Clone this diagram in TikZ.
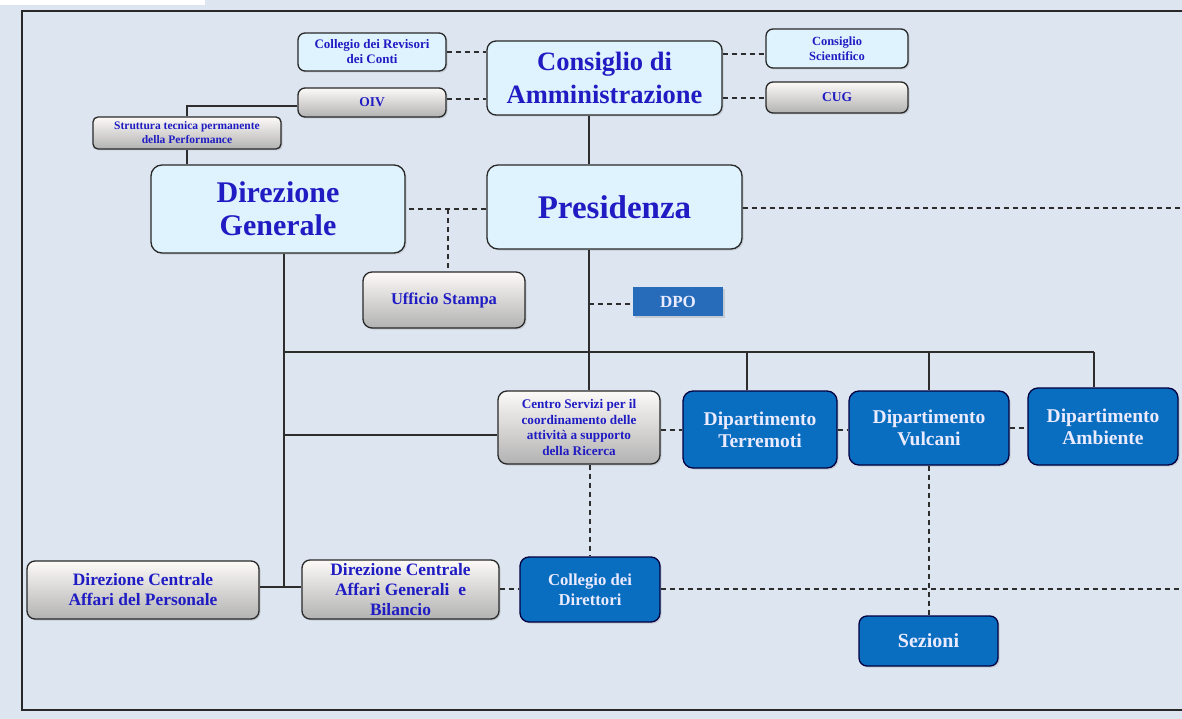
\documentclass[tikz,border=0pt]{standalone}
\usepackage{fontspec}
\setmainfont{Liberation Serif}
\usetikzlibrary{shadows}
\definecolor{bg}{RGB}{220,229,240}
\definecolor{txtblue}{RGB}{32,28,195}
\definecolor{cyanfill}{RGB}{222,243,253}
\definecolor{boxblue}{RGB}{10,110,192}
\definecolor{dpoblue}{RGB}{38,108,186}
\definecolor{edgeclr}{RGB}{40,40,40}
\definecolor{lineclr}{RGB}{45,45,45}
\begin{document}
\begin{tikzpicture}[x=1pt,y=-1pt,
  base/.style={draw=edgeclr, line width=1.3pt, rounded corners=7pt, align=center,
    inner sep=0pt, drop shadow={opacity=0.25, shadow xshift=1.5pt, shadow yshift=-1.5pt}},
  cyanbox/.style={base, fill=cyanfill, text=txtblue},
  graybox/.style={base, top color=white!96!brown, bottom color=black!30, text=txtblue},
  bluebox/.style={base, fill=boxblue, draw=black!75!blue, text=white!92!blue},
  conn/.style={draw=lineclr, line width=1.5pt},
  dconn/.style={draw=lineclr, line width=1.8pt, dash pattern=on 5pt off 4pt},
  fs/.style n args={2}{font=\bfseries\fontsize{#1}{#2}\selectfont}
]
\useasboundingbox (0,0) rectangle (1182,719);
\clip (0,0) rectangle (1182,719);
\fill[bg] (0,0) rectangle (1182,719);
\fill[white] (0,0) rectangle (205,5);
\draw[line width=1.5pt, edgeclr] (1200,11) -- (22,11) -- (22,710) -- (1200,710);

% nodes
\node[cyanbox, fs={13}{15}, minimum width=148pt, minimum height=38pt] (rev) at (372,52) {Collegio dei Revisori\\dei Conti};
\node[cyanbox, fs={26.5}{33}, rounded corners=9pt, minimum width=235pt, minimum height=74pt] (cda) at (604.5,78) {Consiglio di\\Amministrazione};
\node[cyanbox, fs={12.5}{15}, minimum width=142pt, minimum height=39pt] (sci) at (837,48.5) {Consiglio\\Scientifico};
\node[graybox, fs={13.5}{15}, minimum width=142pt, minimum height=31pt] (cug) at (837,97.5) {CUG};
\node[graybox, fs={13.5}{15}, minimum width=148pt, minimum height=29pt] (oiv) at (372,102.5) {OIV};
\node[graybox, fs={11.5}{14}, rounded corners=5pt, minimum width=188pt, minimum height=32pt] (stp) at (187,133) {Struttura tecnica permanente\\della Performance};
\node[cyanbox, fs={30}{33}, rounded corners=11pt, minimum width=254pt, minimum height=88pt] (dg) at (278,209) {Direzione\\Generale};
\node[cyanbox, fs={33}{36}, rounded corners=11pt, minimum width=255pt, minimum height=84pt] (pres) at (614.5,207) {Presidenza};
\node[graybox, fs={16.5}{19}, rounded corners=9pt, minimum width=162pt, minimum height=56pt] (us) at (444,300) {Ufficio Stampa};
\node[base, fill=dpoblue, draw=none, rounded corners=0pt, text=white!92!blue, fs={17}{19}, minimum width=90pt, minimum height=29pt] (dpo) at (678,301.5) {DPO};
\node[graybox, fs={13.2}{15.7}, rounded corners=9pt, minimum width=162pt, minimum height=73pt] (cs) at (579,427.5) {Centro Servizi per il\\coordinamento delle\\attività a supporto\\della Ricerca};
\node[bluebox, fs={19.5}{22}, rounded corners=10pt, minimum width=154pt, minimum height=77pt] (dt) at (760,429.5) {Dipartimento\\Terremoti};
\node[bluebox, fs={19.5}{22}, rounded corners=10pt, minimum width=160pt, minimum height=74pt] (dv) at (929,428) {Dipartimento\\Vulcani};
\node[bluebox, fs={19.5}{22}, rounded corners=10pt, minimum width=150pt, minimum height=77pt] (da) at (1103,426.5) {Dipartimento\\Ambiente};
\node[graybox, fs={17.4}{20}, rounded corners=8pt, minimum width=232pt, minimum height=58pt] (dcp) at (143,590) {Direzione Centrale\\Affari del Personale};
\node[graybox, fs={17.4}{20}, rounded corners=8pt, minimum width=197pt, minimum height=59pt] (dcg) at (400.5,589.5) {Direzione Centrale\\Affari Generali~ e\\Bilancio};
\node[bluebox, fs={16.7}{20}, rounded corners=9pt, minimum width=140pt, minimum height=65pt] (cd) at (590,589.5) {Collegio dei\\Direttori};
\node[bluebox, fs={20}{22}, rounded corners=8pt, minimum width=139pt, minimum height=50pt] (sez) at (928.5,641) {Sezioni};

% helper coordinates
\coordinate (spine) at (589,0);
\coordinate (dgx) at (284,0);
\coordinate (usx) at (448,0);
\coordinate (b1) at (284,352);
\coordinate (b2) at (1094,352);
\coordinate (tdrop) at (747,352);
\coordinate (vdrop) at (929,352);
\coordinate (csl) at (284,435);
\coordinate (re) at (1182,0);
\coordinate (scil) at ([yshift=-5.5pt]sci.west);
\coordinate (cugl) at ([yshift=-0.5pt]cug.west);
\coordinate (oivr) at ([yshift=3.5pt]oiv.east);
\coordinate (oivl) at ([yshift=-3.5pt]oiv.west);
\coordinate (dpol) at ([yshift=-2.5pt]dpo.west);
\coordinate (dcpr) at ([yshift=3pt]dcp.east);
\coordinate (csr) at ([yshift=-2.5pt]cs.east);
\coordinate (dtr) at ([yshift=-0.5pt]dt.east);
\coordinate (presl) at ([yshift=-2pt]pres.west);
\coordinate (presr) at ([yshift=-1pt]pres.east);
\coordinate (cdr) at ([yshift=0.5pt]cd.east);
\coordinate (cdl) at ([yshift=0.5pt]cd.west);

% solid connectors
\draw[conn] (stp.north) |- (oivl);
\draw[conn] (stp.south) -- (stp.south |- dg.north);
\draw[conn] (spine |- cda.south) -- (spine |- pres.north);
\draw[conn] (spine |- pres.south) -- (spine |- cs.north);
\draw[conn] (dgx |- dg.south) -- (dgx |- dcpr);
\draw[conn] (dcpr) -- (dcpr -| dcg.west);
\draw[conn] (b1) -- (b2);
\draw[conn] (b2) -- (b2 |- da.north);
\draw[conn] (tdrop) -- (tdrop |- dt.north);
\draw[conn] (vdrop) -- (vdrop |- dv.north);
\draw[conn] (csl) -- (csl -| cs.west);

% dashed connectors
\draw[dconn] (rev.east) -- (rev.east -| cda.west);
\draw[dconn] (oivr) -- (oivr -| cda.west);
\draw[dconn] (cda.east |- scil) -- (scil);
\draw[dconn] (cda.east |- cugl) -- (cugl);
\draw[dconn] (presl) -- (presl -| dg.east);
\draw[dconn] (usx |- presl) -- (usx |- us.north);
\draw[dconn] (presr) -- (presr -| re);
\draw[dconn] (spine |- dpol) -- (dpol);
\draw[dconn] (csr) -- (csr -| dt.west);
\draw[dconn] (dtr) -- (dtr -| dv.west);
\draw[dconn] (dv.east) -- (dv.east -| da.west);
\draw[dconn] (cd.north |- cs.south) -- (cd.north);
\draw[dconn] (dcg.east |- cdl) -- (cdl);
\draw[dconn] (cdr) -- (cdr -| re);
\draw[dconn] (dv.south) -- (dv.south |- sez.north);
\end{tikzpicture}
\end{document}
